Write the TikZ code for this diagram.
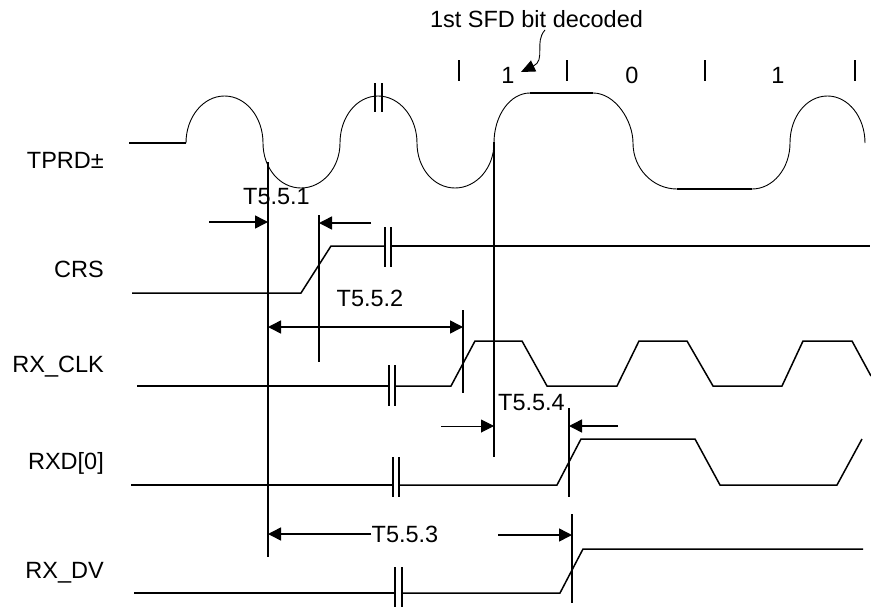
\documentclass[tikz,border=0pt]{standalone}
\usepackage{fontspec}
\setmainfont{Liberation Sans}
\usetikzlibrary{arrows.meta}
\begin{document}
\begin{tikzpicture}[x=1pt,y=-1pt,
  sig/.style={line width=1.5pt},
  wave/.style={line width=0.9pt},
  guide/.style={line width=1.6pt},
  brk/.style={line width=1.6pt},
  dim/.style={line width=1.5pt,-{Triangle[length=13pt,width=13pt]}},
  dimb/.style={line width=1.5pt,{Triangle[length=13pt,width=13pt]}-{Triangle[length=13pt,width=13pt]}},
  lbl/.style={font=\fontsize{23.5}{27}\selectfont,inner sep=0pt},
  tick/.style={line width=1.8pt}]
\useasboundingbox (0,0) rectangle (871,608);

% signal names
\node[lbl,anchor=base east] (nTPRD) at (104,168) {TPRD\textpm};
\node[lbl,anchor=base east] (nCRS) at (104,277) {CRS};
\node[lbl,anchor=base east] (nCLK) at (104,372) {RX\_CLK};
\node[lbl,anchor=base east] (nRXD) at (104,469) {RXD[0]};
\node[lbl,anchor=base east] (nDV) at (104,578) {RX\_DV};

% top annotations
\node[lbl,anchor=base] (sfd) at (536.5,27) {1st SFD bit decoded};
\node[lbl] (b1) at (508,75) {1};
\node[lbl] (b0) at (632,75) {0};
\node[lbl] (b2) at (778,75) {1};
\foreach \x in {459,567,705,855} \draw[tick] (\x,60) -- (\x,81);
\coordinate (sfdA) at (545,30);
\coordinate (sfdB) at (521,72);
\draw[line width=0.9pt,-{Triangle[length=14pt,width=12pt]}] (sfdA) .. controls (534,42) and (546,60) .. (sfdB);

% TPRD waveform
\draw[sig] (129,143) -- (186,143);
\draw[wave] (186,143) .. controls (186,117) and (203.2,96) .. (224.5,96) .. controls (245.8,96) and (263,117) .. (263,143)
 .. controls (263,168) and (279.7,188) .. (301,188) .. controls (322.3,188) and (340,168) .. (340,143)
 .. controls (340,117) and (356.7,96) .. (378,96) .. controls (399.3,96) and (417,117) .. (417,143)
 .. controls (417,168) and (433.7,188) .. (455,188) .. controls (476.3,188) and (494,168) .. (494,143)
 .. controls (494,115.4) and (510.1,93) .. (530,93);
\draw[sig] (530,93) -- (593,93);
\draw[wave] (593,93) .. controls (615.1,93) and (633,120.6) .. (633,143)
 .. controls (633,168.4) and (652.7,189) .. (677,189);
\draw[sig] (677,189) -- (752,189);
\draw[wave] (752,189) .. controls (773,189) and (790,168.4) .. (790,143)
 .. controls (790,117) and (806.3,96) .. (827.5,96) .. controls (848.2,96) and (865,117) .. (865,143);
\draw[brk] (375,83) -- (375,112) (382,83) -- (382,112);

% CRS
\draw[sig] (132,293) -- (301,293) -- (331,246) -- (385,246);
\draw[sig] (391,246) -- (870,246);
\draw[brk] (385,227) -- (385,267) (391,227) -- (391,267);

% RX_CLK
\draw[sig] (137,386) -- (389,386);
\draw[sig] (395,386) -- (451,386) -- (475,341) -- (522,341) -- (547,386) -- (617,386) -- (639,341) -- (687,341) -- (713,386) -- (782,386) -- (803,341) -- (852,341) -- (871,376);
\draw[brk] (389,365) -- (389,406) (395,365) -- (395,406);

% RXD[0]
\draw[sig] (131,485) -- (393,485);
\draw[sig] (399,485) -- (557,485) -- (581,439) -- (695,439) -- (720,485) -- (837,485) -- (862,439);
\draw[brk] (393,457) -- (393,497) (399,457) -- (399,497);

% RX_DV
\draw[sig] (134,593) -- (395,593);
\draw[sig] (402,593) -- (560,593) -- (583,549) -- (863,549);
\draw[brk] (395,567) -- (395,607) (402,567) -- (402,607);

% guide lines
\coordinate (v1t) at (268,162); \coordinate (v1b) at (268,557);
\coordinate (v2t) at (319,215); \coordinate (v2b) at (319,362);
\coordinate (v3t) at (463,310); \coordinate (v3b) at (463,393);
\coordinate (v4t) at (494,142); \coordinate (v4b) at (494,457);
\coordinate (v5t) at (569,408); \coordinate (v5b) at (569,497);
\coordinate (v6t) at (572,514); \coordinate (v6b) at (572,603);
\foreach \v in {1,...,6} \draw[guide] (v\v t) -- (v\v b);

% T5.5.1
\node[lbl] (t1) at (276.5,197) {T5.5.1};
\coordinate (t1a) at (209,222);
\coordinate (t1b) at (371,223);
\draw[dim] (t1a) -- (t1a -| v1t);
\draw[dim] (t1b) -- (t1b -| v2t);

% T5.5.2
\node[lbl] (t2) at (370,298.5) {T5.5.2};
\coordinate (t2a) at (268,327);
\draw[dimb] (t2a) -- (t2a -| v3t);

% T5.5.4
\node[lbl] (t4) at (531.5,402.5) {T5.5.4};
\coordinate (t4a) at (441,426);
\coordinate (t4b) at (618,426);
\draw[dim,line width=1pt] (t4a) -- (t4a -| v4t);
\draw[dim] (t4b) -- (t4b -| v5t);

% T5.5.3
\node[lbl] (t3) at (405,534) {T5.5.3};
\coordinate (t3b) at (498,535);
\draw[dim] (t3.west) -- (t3.west -| v1t);
\draw[dim] (t3b) -- (t3b -| v6t);
\end{tikzpicture}
\end{document}
